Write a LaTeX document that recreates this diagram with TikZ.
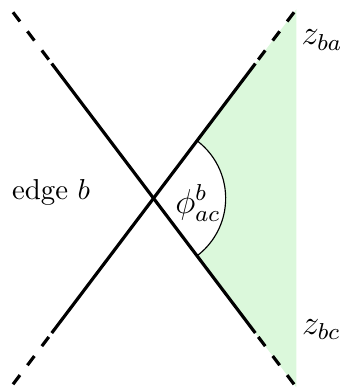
\documentclass[tikz,border=0pt]{standalone}
\usetikzlibrary{positioning}
\definecolor{zone}{RGB}{219,248,219}
\begin{document}
\begin{tikzpicture}[main/.style = {line width=1.1pt}, dsh/.style = {main, dash pattern=on 4pt off 4.3pt}, lbl/.style = {inner sep=0pt}]
    \useasboundingbox (-1.873,-2.302) rectangle (2.324,2.419);
    \coordinate (O) at (0,0);
    \coordinate (NE) at (52.93:2.844);
    \coordinate (NW) at (127.07:2.844);
    \coordinate (SW) at (-127.07:2.844);
    \coordinate (SE) at (-52.93:2.844);
    \coordinate (ne) at (52.93:2.06);
    \coordinate (nw) at (127.07:2.06);
    \coordinate (sw) at (-127.07:2.06);
    \coordinate (se) at (-52.93:2.06);

    \fill[zone] (O) -- (52.93:2.89) -- (-52.93:2.89) -- cycle;
    \fill[white] (O) -- (52.93:0.88) arc[start angle=52.93, end angle=-52.93, radius=0.88] -- cycle;
    \draw[thin] (52.93:0.88) arc[start angle=52.93, end angle=-52.93, radius=0.88];

    \draw[main] (sw) -- (ne);
    \draw[main] (nw) -- (se);
    \draw[dsh] (NE) -- (ne);
    \draw[dsh] (NW) -- (nw);
    \draw[dsh] (SW) -- (sw);
    \draw[dsh] (SE) -- (se);

    \node[lbl] (phi) at (0.54,-0.06) {\large$\phi^b_{ac}$};
    \node[lbl, anchor=base] (edge) at (-1.25,-0.02) {edge $b$};
    \node[lbl, anchor=base west] (zba) at (1.80,1.87) {\large$z_{ba}$};
    \node[lbl, anchor=base west] (zbc) at (1.806,-1.656) {\large$z_{bc}$};
\end{tikzpicture}
\end{document}
